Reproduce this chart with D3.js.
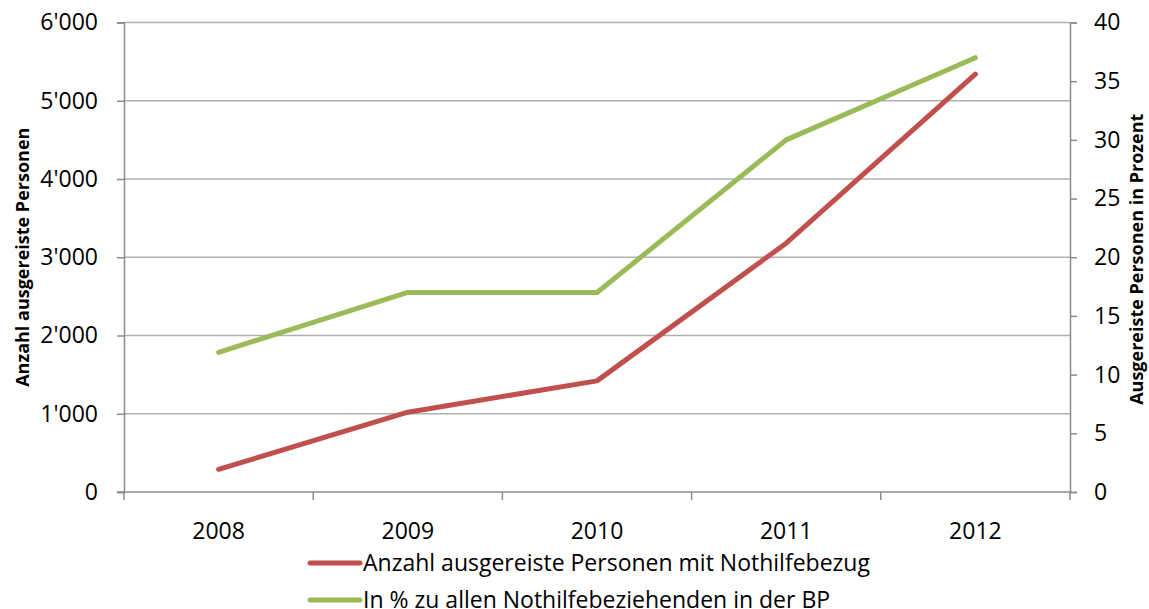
<!DOCTYPE html>
<html>
<head>
<meta charset="utf-8">
<script src="https://cdn.jsdelivr.net/npm/d3@7"></script>
<style>
  body { margin: 0; background: #fff; }
  text { font-family: "Open Sans", "Noto Sans", sans-serif; fill: #000; }
</style>
</head>
<body>
<div id="chart"></div>
<script>
const years = ["2008", "2009", "2010", "2011", "2012"];
const anzahl = [290, 1020, 1420, 3180, 5340];     // left axis
const prozent = [11.9, 17.0, 17.0, 30.0, 37.0];    // right axis
const leftTicks = [0, 1000, 2000, 3000, 4000, 5000, 6000];
const rightTicks = [0, 5, 10, 15, 20, 25, 30, 35, 40];
const seriesNames = ["Anzahl ausgereiste Personen mit Nothilfebezug", "In % zu allen Nothilfebeziehenden in der BP"];
const colors = ["#C0504D", "#9BBB59"];

const width = 1149, height = 609;
const margin = { top: 22.5, right: 79, bottom: 117, left: 124 };

const svg = d3.select("#chart").append("svg")
    .attr("width", width)
    .attr("height", height);

const x = d3.scaleBand()
    .domain(years)
    .range([margin.left, width - margin.right]);

const yL = d3.scaleLinear()
    .domain([0, 6000])
    .range([height - margin.bottom, margin.top]);

const yR = d3.scaleLinear()
    .domain([0, 40])
    .range([height - margin.bottom, margin.top]);

const loc = d3.formatLocale({ decimal: ".", thousands: "'", grouping: [3], currency: ["", ""] });
const fmt = loc.format(",d");

// gridlines
svg.append("g")
    .selectAll("line")
    .data(leftTicks.slice(1))
    .join("line")
    .attr("x1", margin.left)
    .attr("x2", width - margin.right)
    .attr("y1", d => yL(d))
    .attr("y2", d => yL(d))
    .attr("stroke", "#b0b0b0")
    .attr("stroke-width", 1.5);

// left axis
svg.append("g")
    .attr("transform", `translate(${margin.left},0)`)
    .call(d3.axisLeft(yL).tickValues(leftTicks).tickFormat(fmt).tickSize(7).tickPadding(19))
    .call(g => g.selectAll("path, line").attr("stroke", "#8c8c8c").attr("stroke-width", 1.5))
    .call(g => g.selectAll("text").attr("font-size", 23).attr("font-family", "'Open Sans', sans-serif"));

// right axis
svg.append("g")
    .attr("transform", `translate(${width - margin.right},0)`)
    .call(d3.axisRight(yR).tickValues(rightTicks).tickSize(7).tickPadding(17))
    .call(g => g.selectAll("path, line").attr("stroke", "#8c8c8c").attr("stroke-width", 1.5))
    .call(g => g.selectAll("text").attr("font-size", 23).attr("font-family", "'Open Sans', sans-serif"));

// bottom axis: ticks at band boundaries
const xAxisG = svg.append("g")
    .attr("transform", `translate(0,${height - margin.bottom})`);
xAxisG.append("line")
    .attr("x1", margin.left - 7).attr("x2", width - margin.right)
    .attr("stroke", "#8c8c8c").attr("stroke-width", 1.5);
xAxisG.selectAll(".tk")
    .data(years.concat(["end"]))
    .join("line")
    .attr("class", "tk")
    .attr("x1", (d, i) => margin.left + i * x.step())
    .attr("x2", (d, i) => margin.left + i * x.step())
    .attr("y1", 0).attr("y2", 8)
    .attr("stroke", "#8c8c8c").attr("stroke-width", 1.5);
xAxisG.selectAll(".lbl")
    .data(years)
    .join("text")
    .attr("class", "lbl")
    .attr("x", d => x(d) + x.bandwidth() / 2)
    .attr("y", 47)
    .attr("text-anchor", "middle")
    .attr("font-size", 23)
    .text(d => d);

// axis titles
svg.append("text")
    .attr("transform", `translate(29,${(margin.top + height - margin.bottom) / 2}) rotate(-90)`)
    .attr("text-anchor", "middle")
    .attr("font-size", 18)
    .attr("font-weight", "bold")
    .text("Anzahl ausgereiste Personen");

svg.append("text")
    .attr("transform", `translate(1143,${(margin.top + height - margin.bottom) / 2 + 2}) rotate(-90)`)
    .attr("text-anchor", "middle")
    .attr("font-size", 18)
    .attr("font-weight", "bold")
    .text("Ausgereiste Personen  in Prozent");

// lines
const cx = d => x(d) + x.bandwidth() / 2;
const lineL = d3.line().x((d, i) => cx(years[i])).y(d => yL(d));
const lineR = d3.line().x((d, i) => cx(years[i])).y(d => yR(d));

svg.append("path")
    .datum(anzahl)
    .attr("fill", "none")
    .attr("stroke", colors[0])
    .attr("stroke-width", 5)
    .attr("stroke-linejoin", "round")
    .attr("stroke-linecap", "round")
    .attr("d", lineL);

svg.append("path")
    .datum(prozent)
    .attr("fill", "none")
    .attr("stroke", colors[1])
    .attr("stroke-width", 5)
    .attr("stroke-linejoin", "round")
    .attr("stroke-linecap", "round")
    .attr("d", lineR);

// legend
const legend = svg.append("g").attr("transform", "translate(310,563)");
seriesNames.forEach((name, i) => {
  const row = legend.append("g").attr("transform", `translate(0,${i * 37})`);
  row.append("line")
      .attr("x1", 0).attr("x2", 50)
      .attr("stroke", colors[i])
      .attr("stroke-width", 5)
      .attr("stroke-linecap", "round");
  row.append("text")
      .attr("x", 53)
      .attr("y", 8)
      .attr("font-size", 23)
      .text(name);
});
</script>
</body>
</html>
